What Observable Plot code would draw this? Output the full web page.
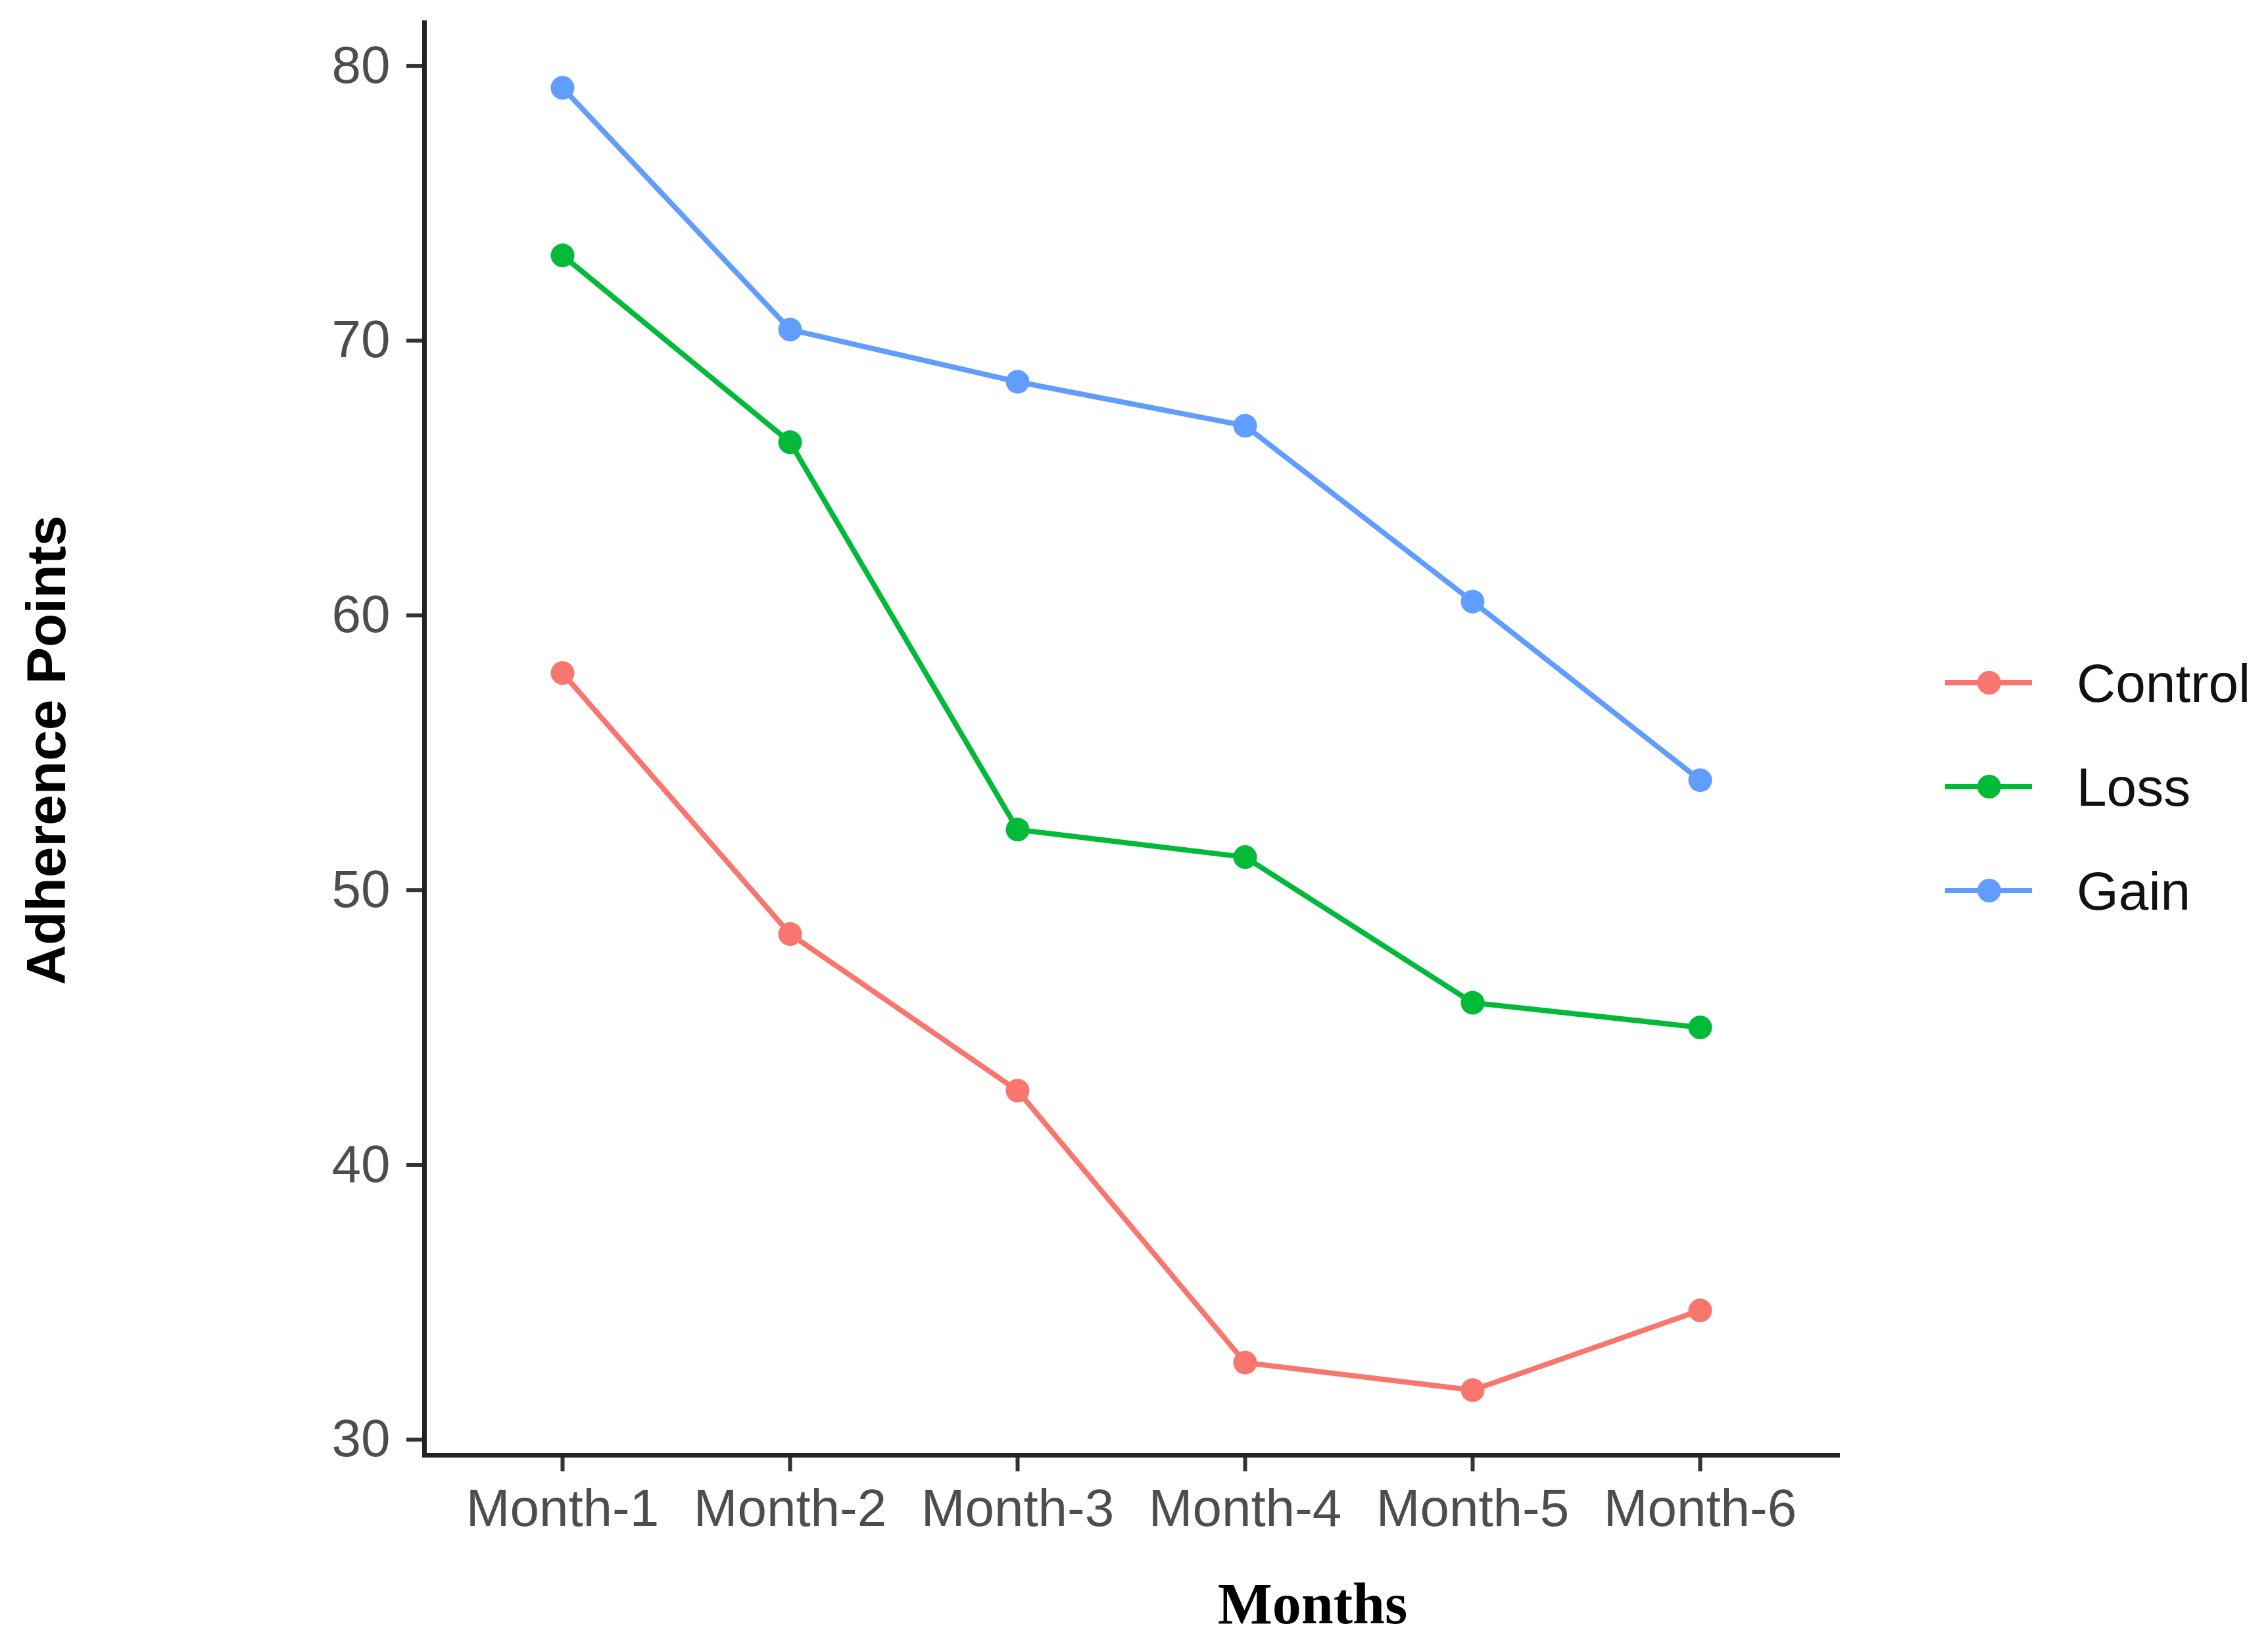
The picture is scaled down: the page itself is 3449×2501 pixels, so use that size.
<!DOCTYPE html>
<html>
<head>
<meta charset="utf-8">
<script src="https://cdn.jsdelivr.net/npm/d3@7"></script>
<script src="https://cdn.jsdelivr.net/npm/@observablehq/plot@0.6"></script>
<style>
  html, body { margin: 0; padding: 0; background: #fff; }
  #wrap { position: relative; width: 3449px; height: 2501px; }
  #legend { position: absolute; left: 0; top: 0; }
</style>
</head>
<body>
<div id="wrap"></div>
<script>
const months = ["Month-1", "Month-2", "Month-3", "Month-4", "Month-5", "Month-6"];
const groups = ["Control", "Loss", "Gain"];
const colors = ["#F8766D", "#00BA38", "#619CFF"];
const control = [57.9, 48.4, 42.7, 32.8, 31.8, 34.7];
const loss = [73.1, 66.3, 52.2, 51.2, 45.9, 45.0];
const gain = [79.2, 70.4, 68.5, 66.9, 60.5, 54.0];
const yTicks = [30, 40, 50, 60, 70, 80];
const yTitle = "Adherence Points";
const xTitle = "Months";

const series = [control, loss, gain];
const data = [];
groups.forEach((g, gi) => months.forEach((m, mi) => data.push({group: g, month: m, value: series[gi][mi]})));

const all = series.flat();
const lo = d3.min(all), hi = d3.max(all), ex = (hi - lo) * 0.05;

const W = 3449, H = 2501;
const chart = Plot.plot({
  width: W,
  height: H,
  marginLeft: 645,
  marginRight: 655,
  marginTop: 34,
  marginBottom: 289,
  style: {fontFamily: "'Liberation Sans', Arial, sans-serif", background: "#fff"},
  x: {type: "point", domain: months, padding: 0.6, label: null},
  y: {domain: [lo - ex, hi + ex], label: null},
  color: {domain: groups, range: colors},
  marks: [
    Plot.axisY(yTicks, {tickSize: 27, tickPadding: 25, fontSize: 80, stroke: "#333", strokeWidth: 6, fill: "#4d4d4d", label: null}),
    Plot.axisX(months, {tickSize: 25, tickPadding: 26, fontSize: 80, stroke: "#333", strokeWidth: 6, fill: "#4d4d4d", label: null}),
    Plot.frame({anchor: "left", stroke: "#222", strokeWidth: 7}),
    Plot.frame({anchor: "bottom", stroke: "#222", strokeWidth: 7}),
    Plot.line(data, {x: "month", y: "value", z: "group", stroke: "group", strokeWidth: 8}),
    Plot.dot(data, {x: "month", y: "value", fill: "group", r: 18}),
    Plot.text([yTitle], {frameAnchor: "left", text: d => d, textAnchor: "middle", rotate: -90, dx: -573, dy: 17, fontSize: 84, fontWeight: "bold", fill: "#000"}),
    Plot.text([xTitle], {frameAnchor: "bottom", text: d => d, textAnchor: "middle", lineAnchor: "bottom", dx: 276, dy: 255, fontSize: 88, fontWeight: "bold", fill: "#000", fontFamily: "'Liberation Serif', 'Times New Roman', serif"})
  ]
});
document.getElementById("wrap").appendChild(chart);

// Legend
const lg = d3.select("#wrap").append("svg").attr("id", "legend").attr("width", W).attr("height", H);
const legY0 = 1038, legStep = 158;
groups.forEach((g, i) => {
  const y = legY0 + i * legStep;
  const row = lg.append("g");
  row.append("line").attr("x1", 2958).attr("x2", 3090).attr("y1", y).attr("y2", y)
    .attr("stroke", colors[i]).attr("stroke-width", 8);
  row.append("circle").attr("cx", 3025).attr("cy", y).attr("r", 18).attr("fill", colors[i]);
  row.append("text").attr("x", 3158).attr("y", y).attr("dy", "0.35em")
    .attr("font-family", "'Liberation Sans', Arial, sans-serif").attr("font-size", 82)
    .attr("fill", "#111").text(g);
});
</script>
</body>
</html>
